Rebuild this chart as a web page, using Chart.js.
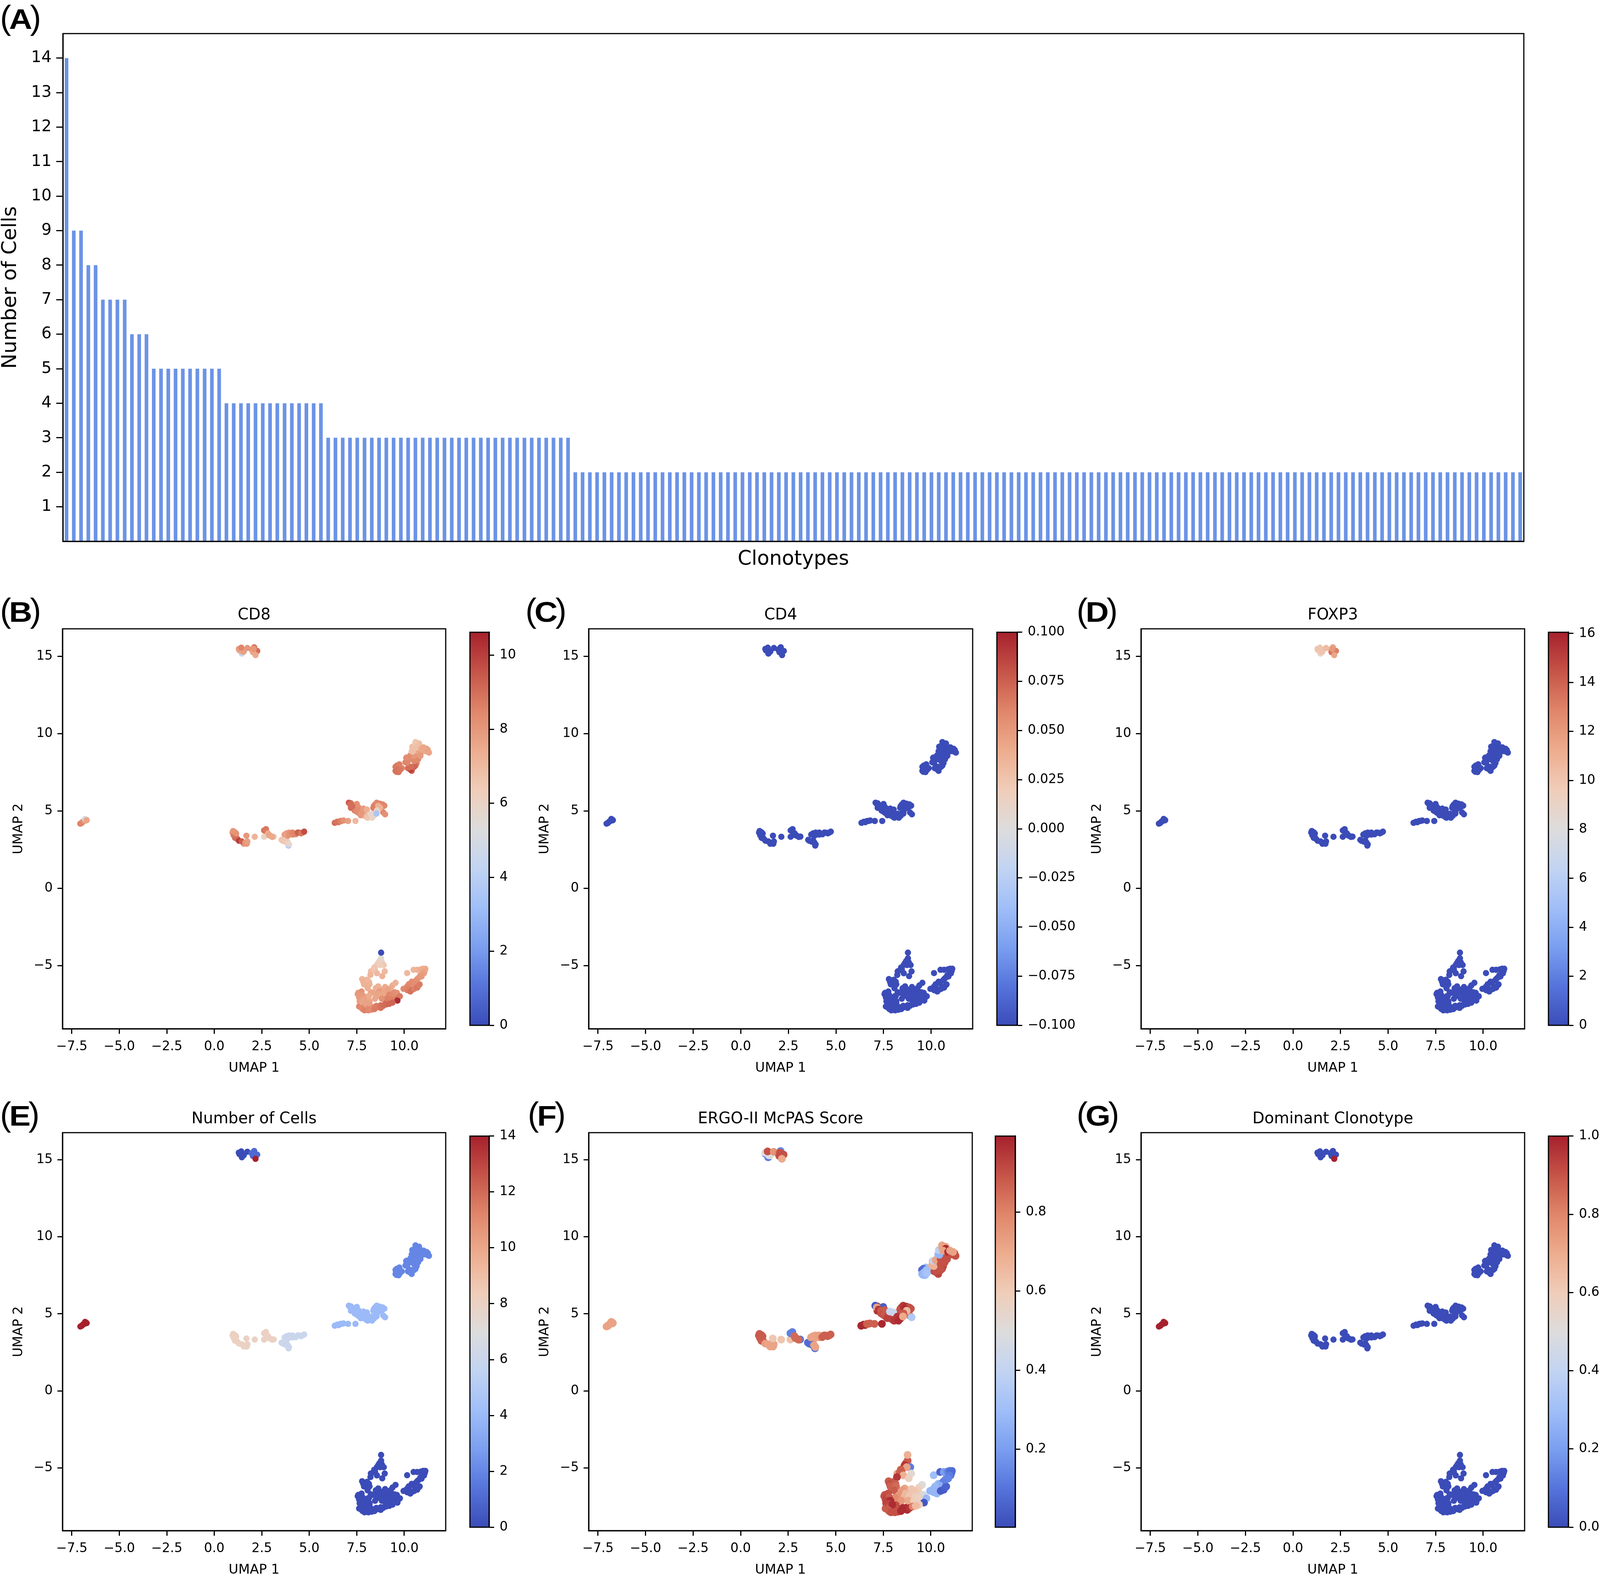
<!DOCTYPE html>
<html>
<head>
<meta charset="utf-8">
<title>Clonotypes</title>
<script src="https://cdn.jsdelivr.net/npm/chart.js@4"></script>
<style>
    body { margin: 0; background: #fff; }
    #page { position: relative; width: 4096px; height: 4030px; overflow: hidden; }
    canvas { position: absolute; }
    .letter { position: absolute; font-family: "Liberation Sans"; color: #000; line-height: 83px; font-size: 86px; white-space: nowrap; }
    .letter b { display: inline-block; font-size: 72px; transform: scaleX(1.14); margin: 0 -2px; }
</style>
</head>
<body>
<div id="page"></div>
<script>
// panel A
const clonotypeSizes = [
    14, 9, 9, 8, 8, 7, 7, 7, 7, 6, 6, 6,
    5, 5, 5, 5, 5, 5, 5, 5, 5, 5,
    4, 4, 4, 4, 4, 4, 4, 4, 4, 4, 4, 4, 4, 4,
    3, 3, 3, 3, 3, 3, 3, 3, 3, 3, 3, 3, 3, 3, 3, 3, 3, 3, 3, 3,
    3, 3, 3, 3, 3, 3, 3, 3, 3, 3, 3, 3, 3, 3,
    2, 2, 2, 2, 2, 2, 2, 2, 2, 2, 2, 2, 2, 2, 2, 2, 2, 2, 2, 2,
    2, 2, 2, 2, 2, 2, 2, 2, 2, 2, 2, 2, 2, 2, 2, 2, 2, 2, 2, 2,
    2, 2, 2, 2, 2, 2, 2, 2, 2, 2, 2, 2, 2, 2, 2, 2, 2, 2, 2, 2,
    2, 2, 2, 2, 2, 2, 2, 2, 2, 2, 2, 2, 2, 2, 2, 2, 2, 2, 2, 2,
    2, 2, 2, 2, 2, 2, 2, 2, 2, 2, 2, 2, 2, 2, 2, 2, 2, 2, 2, 2,
    2, 2, 2, 2, 2, 2, 2, 2, 2, 2, 2, 2, 2, 2, 2, 2, 2, 2, 2, 2,
    2, 2, 2, 2, 2, 2, 2, 2, 2, 2, 2
];
const sizeTicks = [1, 2, 3, 4, 5, 6, 7, 8, 9, 10, 11, 12, 13, 14];

// UMAP coordinates, one row per blob of cells
const umapX = [
    7.55, 7.62, 7.65, 7.71, 7.62, 7.81, 7.97, 7.97, 8.17, 8.30, 8.63, 8.76, 9.02, 9.15, 9.31, 9.54, 9.67,
    8.10, 8.01, 8.17, 8.24, 8.43, 8.56, 8.76, 8.92, 9.08, 9.02, 9.35, 9.48,
    7.78, 8.04, 7.97, 8.24, 8.37, 8.56, 8.82,
    10.39, 10.68, 10.85, 11.04, 11.11, 10.26, 10.59, 10.42, 10.81,
    8.78, 8.69, 8.63, 8.92, 8.73, 8.42, 8.46, 8.97, 8.56, 8.84, 8.22, 7.94, 7.84, 8.14, 7.88, 8.17, 8.07, 8.78,
    8.63, 8.50, 8.99, 9.54, 9.38, 9.28, 9.12, 8.68, 8.33, 8.63, 8.89, 8.14, 8.46, 8.82, 9.61, 9.21, 9.41, 9.77, 9.12, 9.34, 9.64, 9.38,
    7.58, 7.75, 7.65, 7.81, 7.68, 7.88, 7.78, 7.84, 8.17, 7.98,
    7.75, 7.91, 8.11, 8.27, 8.43, 8.53, 8.76, 8.89, 9.05, 9.21,
    10.15, 10.49, 10.68, 10.88, 10.99, 11.08, 10.98, 10.91, 10.75, 10.62, 10.45, 10.23, 10.13, 9.96, 10.16, 10.32, 10.52, 10.68, 10.78,
    0.96, 1.06, 1.09, 1.22, 1.55, 1.71, 2.72, 2.79, 2.95, 3.54, 3.80, 3.80, 3.86, 4.12, 4.45, 4.65,
    7.19, 7.29, 7.19, 7.39, 7.55, 7.65, 7.75, 7.85, 7.91, 7.94, 8.14, 8.46, 8.86, 8.37, 8.89, 8.43, 6.54, 6.70,
    9.54, 9.74, 9.87, 9.54, 9.70, 10.10, 10.06, 10.19, 10.39, 10.59, 10.65, 10.19, 10.39, 10.59, 10.32, 10.78, 10.68, 10.91, 10.52, 10.39, 10.59, 10.78, 11.24, 11.30,
    1.02, 1.15, 0.99, 1.09, 1.15, 1.30, 1.45, 1.63, 1.74, 1.69, 2.13,
    2.62, 3.13, 2.62, 2.72, 2.83, 2.88, 3.05,
    3.60, 3.73, 3.91, 3.86, 3.93,
    3.70, 3.93, 3.96, 4.12, 4.29, 4.39, 4.57, 4.73,
    6.34, 6.47, 6.64, 6.80, 7.04, 7.43,
    7.08, 7.50, 7.16, 7.26, 7.39, 7.58, 7.45, 7.58, 7.75, 7.71, 7.85, 8.03, 8.01, 8.07, 8.24, 8.30, 8.40,
    8.40, 8.55, 8.71, 8.86, 8.95, 8.99, 8.63, 8.73, 8.56, 8.54,
    9.61, 9.77, 9.64, 9.59, 9.77, 10.32, 10.23, 10.52, 10.36, 10.16, 10.13, 10.26, 10.52, 10.73, 10.52, 10.85, 10.45, 10.42, 10.59, 10.78, 10.65, 10.91, 11.11, 11.27, 11.17, 11.01,
    1.45, 1.32, 1.29, 1.48, 1.55, 1.42, 1.74, 2.10, 1.97, 2.26, 2.03, 2.07, 2.17,
    -7.05, -6.98, -6.92, -6.85, -6.78, -6.74, -6.80, -6.72
];
const umapY = [
    -6.84, -7.05, -7.30, -7.47, -7.64, -7.81, -7.81, -7.64, -7.64, -7.68, -7.68, -7.56, -7.39, -7.30, -7.30, -7.14, -7.09,
    -6.97, -7.22, -7.30, -6.72, -6.72, -6.97, -6.55, -6.55, -6.72, -6.97, -6.72, -6.72,
    -5.87, -5.91, -6.21, -5.37, -5.28, -4.95, -4.78,
    -6.04, -5.87, -5.62, -5.49, -5.20, -6.46, -6.38, -6.55, -6.21,
    -4.53, -4.70, -4.82, -4.96, -4.96, -5.12, -5.24, -5.37, -5.49, -5.68, -5.60, -5.96, -6.04, -6.04, -6.21, -6.21, -6.46, -4.16,
    -6.34, -6.46, -6.38, -6.11, -6.28, -6.46, -6.55, -6.67, -6.76, -6.84, -6.80, -6.97, -7.14, -7.14, -6.76, -6.88, -6.92, -6.98, -7.14, -7.18, -7.26, -7.39,
    -6.76, -6.67, -6.92, -6.92, -7.14, -7.14, -7.35, -7.56, -7.43, -7.39,
    -7.73, -7.89, -7.89, -7.85, -7.81, -7.60, -7.73, -7.60, -7.51, -7.47,
    -5.48, -5.27, -5.27, -5.24, -5.20, -5.33, -5.49, -5.70, -5.79, -5.96, -6.13, -6.21, -6.38, -6.50, -6.59, -6.67, -6.50, -6.42, -6.25,
    3.60, 3.39, 3.26, 3.18, 2.88, 2.88, 3.68, 3.47, 3.39, 3.13, 3.09, 3.55, 3.39, 3.47, 3.60, 3.60,
    5.49, 5.36, 5.20, 5.03, 4.90, 4.82, 5.11, 4.90, 4.69, 5.03, 4.77, 5.41, 5.28, 5.20, 4.90, 4.82, 4.27, 4.35,
    7.85, 8.01, 7.76, 7.59, 7.51, 8.43, 8.14, 8.27, 8.35, 8.43, 8.10, 7.76, 7.59, 7.93, 8.60, 8.73, 8.86, 8.81, 9.02, 8.86, 9.45, 9.36, 8.94, 8.77,
    3.43, 3.30, 3.70, 3.62, 3.54, 3.07, 3.03, 2.95, 3.03, 3.40, 3.33,
    3.33, 3.34, 3.74, 3.82, 3.55, 3.43, 3.32,
    3.07, 3.01, 2.76, 2.97, 2.84,
    3.47, 3.60, 3.47, 3.60, 3.49, 3.60, 3.55, 3.66,
    4.23, 4.30, 4.35, 4.38, 4.35, 4.35,
    5.53, 5.45, 5.42, 5.28, 5.20, 5.24, 4.99, 5.03, 4.90, 4.72, 5.15, 5.09, 4.61, 4.56, 4.82, 4.56, 4.69,
    5.32, 5.53, 5.47, 5.42, 5.34, 4.78, 5.32, 5.20, 5.03, 4.83,
    7.93, 7.85, 7.68, 7.53, 7.64, 7.68, 7.80, 7.85, 7.85, 8.11, 8.45, 8.48, 8.22, 8.35, 8.56, 8.56, 8.84, 9.15, 9.32, 9.23, 9.11, 9.02, 8.86, 8.79, 9.02, 9.11,
    15.17, 15.38, 15.47, 15.30, 15.30, 15.55, 15.53, 15.58, 15.43, 15.34, 15.26, 15.47, 15.07,
    4.18, 4.22, 4.30, 4.36, 4.38, 4.42, 4.48, 4.40
];

const cd8Values = [
    8, 7.9, 7.8, 7.8, 8.4, 8.6, 8.5, 8.2, 8.3, 8.4, 8.8, 8.9, 9.1, 9.2, 9.3, 9.1, 9.2,
    7.4, 7.5, 7.6, 7.6, 7.6, 7.7, 7.6, 7.7, 8, 8.2, 8.3, 8.3,
    7.1, 7.1, 7.2, 6.9, 6.8, 6.3, 6,
    8.3, 8.1, 7.9, 7.6, 7.4, 8.6, 8.7, 8.9, 8.6,
    5.6, 5.8, 6.2, 6.5, 6.3, 6.6, 6.6, 7, 7, 7.2, 7.1, 7.1, 7.2, 7, 7.2, 7.2, 7.3, 0,
    7.3, 7.3, 7.5, 7.2, 7.3, 7.5, 7.7, 7.9, 7.6, 7.6, 7.6, 7.4, 7.6, 8.2, 8.2, 8.4, 8.3, 8.7, 8.6, 8.6, 10.4, 9.2,
    8, 8.1, 7.9, 7.9, 7.9, 7.7, 7.6, 7.6, 7.7, 7.7,
    8.4, 8.6, 8.4, 8.3, 8.7, 8.7, 8.9, 9, 9.1, 9.2,
    7, 7.1, 7.2, 7.4, 7.4, 7.6, 7.8, 7.9, 8, 8.2, 8.3, 8.4, 8.5, 8.4, 8.6, 8.9, 8.6, 8.8, 8.7,
    8, 8.8, 9, 9.3, 8, 7.9, 8.6, 7.6, 7.5, 6.6, 6.5, 7.9, 8, 8.4, 9, 9.4,
    9, 9, 9.1, 8.8, 8.2, 8.1, 8.1, 7.7, 7.2, 7.5, 6.4, 8.4, 8.4, 8.7, 8.4, 6, 8.7, 8.5,
    8.8, 8.6, 8.6, 8.9, 8.9, 8.4, 8.5, 8.5, 8.3, 8.1, 8.4, 9, 9.4, 9, 8.2, 7.8, 7.6, 7.7, 6.8, 6.9, 6.6, 6.8, 7.6, 7.6,
    8.8, 9, 8, 8, 8.1, 10, 9.3, 8, 7.8, 8, 7.2,
    6, 6.2, 8.9, 8.8, 7.5, 7.6, 7.5,
    6.6, 6.5, 3.6, 6.4, 5.7,
    7.8, 8, 8.2, 8.5, 8.5, 9.3, 8.8, 9.7,
    9, 8.9, 8.6, 8.2, 7.8, 7,
    9.4, 8.2, 9, 9, 9, 8.2, 8.4, 8.3, 8, 8, 7.9, 7.3, 7, 6.6, 5.9, 6, 5.9,
    8.6, 8.4, 8.4, 8.5, 8.4, 8.2, 7.2, 7.2, 6, 3.5,
    8.7, 8.6, 8.9, 8.9, 8.8, 10, 9, 9.2, 9, 8.5, 8.3, 8.3, 8.4, 8.4, 8, 7.9, 6.8, 6.8, 6.6, 6.9, 6.8, 7.5, 7.5, 7.6, 7.7, 7.6,
    4.5, 7.5, 7.8, 7.6, 7.8, 8.5, 8, 8.8, 8, 9, 7.6, 8, 7.5,
    8.6, 8.5, 8.4, 8, 7.8, 7.5, 5, 7.6
];
const cd4Values = [
    -0.1, -0.1, -0.1, -0.1, -0.1, -0.1, -0.1, -0.1, -0.1, -0.1,
    -0.1, -0.1, -0.1, -0.1, -0.1, -0.1, -0.1, -0.1, -0.1, -0.1,
    -0.1, -0.1, -0.1, -0.1, -0.1, -0.1, -0.1, -0.1, -0.1, -0.1,
    -0.1, -0.1, -0.1, -0.1, -0.1, -0.1, -0.1, -0.1, -0.1, -0.1,
    -0.1, -0.1, -0.1, -0.1, -0.1, -0.1, -0.1, -0.1, -0.1, -0.1,
    -0.1, -0.1, -0.1, -0.1, -0.1, -0.1, -0.1, -0.1, -0.1, -0.1,
    -0.1, -0.1, -0.1, -0.1, -0.1, -0.1, -0.1, -0.1, -0.1, -0.1,
    -0.1, -0.1, -0.1, -0.1, -0.1, -0.1, -0.1, -0.1, -0.1, -0.1,
    -0.1, -0.1, -0.1, -0.1, -0.1, -0.1, -0.1, -0.1, -0.1, -0.1,
    -0.1, -0.1, -0.1, -0.1, -0.1, -0.1, -0.1, -0.1, -0.1, -0.1,
    -0.1, -0.1, -0.1, -0.1, -0.1, -0.1, -0.1, -0.1, -0.1, -0.1,
    -0.1, -0.1, -0.1, -0.1, -0.1, -0.1, -0.1, -0.1, -0.1, -0.1,
    -0.1, -0.1, -0.1, -0.1, -0.1, -0.1, -0.1, -0.1, -0.1, -0.1,
    -0.1, -0.1, -0.1, -0.1, -0.1, -0.1, -0.1, -0.1, -0.1, -0.1,
    -0.1, -0.1, -0.1, -0.1, -0.1, -0.1, -0.1, -0.1, -0.1, -0.1,
    -0.1, -0.1, -0.1, -0.1, -0.1, -0.1, -0.1, -0.1, -0.1, -0.1,
    -0.1, -0.1, -0.1, -0.1, -0.1, -0.1, -0.1, -0.1, -0.1, -0.1,
    -0.1, -0.1, -0.1, -0.1, -0.1, -0.1, -0.1, -0.1, -0.1, -0.1,
    -0.1, -0.1, -0.1, -0.1, -0.1, -0.1, -0.1, -0.1, -0.1, -0.1,
    -0.1, -0.1, -0.1, -0.1, -0.1, -0.1, -0.1, -0.1, -0.1, -0.1,
    -0.1, -0.1, -0.1, -0.1, -0.1, -0.1, -0.1, -0.1, -0.1, -0.1,
    -0.1, -0.1, -0.1, -0.1, -0.1, -0.1, -0.1, -0.1, -0.1, -0.1,
    -0.1, -0.1, -0.1, -0.1, -0.1, -0.1, -0.1, -0.1, -0.1, -0.1,
    -0.1, -0.1, -0.1, -0.1, -0.1, -0.1, -0.1, -0.1, -0.1, -0.1,
    -0.1, -0.1, -0.1, -0.1, -0.1, -0.1, -0.1, -0.1, -0.1, -0.1,
    -0.1, -0.1, -0.1, -0.1, -0.1, -0.1, -0.1, -0.1, -0.1, -0.1,
    -0.1, -0.1, -0.1, -0.1, -0.1, -0.1, -0.1, -0.1, -0.1, -0.1,
    -0.1, -0.1, -0.1, -0.1, -0.1, -0.1, -0.1, -0.1, -0.1, -0.1,
    -0.1, -0.1, -0.1, -0.1, -0.1, -0.1, -0.1, -0.1, -0.1, -0.1,
    -0.1, -0.1, -0.1
];
const foxp3Values = [
    0, 0, 0, 0, 0, 0, 0, 0, 0, 0, 0, 0, 0, 0, 0, 0, 0, 0, 0, 0,
    0, 0, 0, 0, 0, 0, 0, 0, 0, 0, 0, 0, 0, 0, 0, 0, 0, 0, 0, 0,
    0, 0, 0, 0, 0, 0, 0, 0, 0, 0, 0, 0, 0, 0, 0, 0, 0, 0, 0, 0,
    0, 0, 0, 0, 0, 0, 0, 0, 0, 0, 0, 0, 0, 0, 0, 0, 0, 0, 0, 0,
    0, 0, 0, 0, 0, 0, 0, 0, 0, 0, 0, 0, 0, 0, 0, 0, 0, 0, 0, 0,
    0, 0, 0, 0, 0, 0, 0, 0, 0, 0, 0, 0, 0, 0, 0, 0, 0, 0, 0, 0,
    0, 0, 0, 0, 0, 0, 0, 0, 0, 0, 0, 0, 0, 0, 0, 0, 0, 0, 0, 0,
    0, 0, 0, 0, 0, 0, 0, 0, 0, 0, 0, 0, 0, 0, 0, 0, 0, 0, 0, 0,
    0, 0, 0, 0, 0, 0, 0, 0, 0, 0, 0, 0, 0, 0, 0, 0, 0, 0, 0, 0,
    0, 0, 0, 0, 0, 0, 0, 0, 0, 0, 0, 0, 0, 0, 0, 0, 0, 0, 0, 0,
    0, 0, 0, 0, 0, 0, 0, 0, 0, 0, 0, 0, 0, 0, 0, 0, 0, 0, 0, 0,
    0, 0, 0, 0, 0, 0, 0, 0, 0, 0, 0, 0, 0, 0, 0, 0, 0, 0, 0, 0,
    0, 0, 0, 0, 0, 0, 0, 0, 0, 0, 0, 0, 0, 0, 0, 0, 0, 0, 0, 0,
    0, 0, 0, 0, 0, 0, 0, 0, 0, 0, 0, 0,
    9, 9.5, 10, 10, 10, 10, 10.5, 11.5, 10.5, 13, 13.5, 12, 11.5,
    0, 0, 0, 0, 0, 0, 0, 0
];
const cellCounts = [
    0, 0, 0, 0, 0, 0, 0, 0, 0, 0, 0, 0, 0, 0, 0, 0, 0, 0, 0, 0,
    0, 0, 0, 0, 0, 0, 0, 0, 0, 0, 0, 0, 0, 0, 0, 0, 0, 0, 0, 0,
    0, 0, 0, 0, 0,
    0, 0, 0, 0, 0, 0, 0, 0, 0, 0, 0, 0, 0, 0, 0, 0, 0, 0,
    0, 0, 0, 0, 0, 0, 0, 0, 0, 0, 0, 0, 0, 0, 0, 0, 0, 0, 0, 0, 0, 0,
    0, 0, 0, 0, 0, 0, 0, 0, 0, 0,
    0, 0, 0, 0, 0, 0, 0, 0, 0, 0,
    0, 0, 0, 0, 0, 0, 0, 0, 0, 0, 0, 0, 0, 0, 0, 0, 0, 0, 0,
    8, 8, 8, 8, 8, 8, 8, 8, 8, 6, 6, 6, 6, 6, 6, 6,
    4, 4, 4, 4, 4, 4, 4, 4, 4, 4, 4, 4, 4, 4, 4, 4, 4, 4,
    2, 2, 2, 2, 2, 2, 2, 2, 2, 2, 2, 2, 2, 2, 2, 2, 2, 2, 2, 2, 2, 2, 2, 2,
    8, 8, 8, 8, 8, 8, 8, 8, 8, 8, 8,
    8, 8, 8, 8, 8, 8, 8,
    6, 6, 6, 6, 6,
    6, 6, 6, 6, 6, 6, 6, 6,
    4, 4, 4, 4, 4, 4,
    4, 4, 4, 4, 4, 4, 4, 4, 4, 4, 4, 4, 4, 4, 4, 4, 4,
    4, 4, 4, 4, 4, 4, 4, 4, 4, 4,
    2, 2, 2, 2, 2, 2, 2, 2, 2, 2, 2, 2, 2, 2, 2, 2, 2, 2, 2, 2, 2, 2, 2, 2, 2, 2,
    0, 0, 0, 0, 0, 0, 0, 1, 1, 1, 1, 1, 14,
    14, 14, 14, 14, 14, 14, 14, 14
];
const ergoScores = [
    .9, .9, .92, .9, .88, .9, .9, .9, .88, .95, .97, .97, .78, .65, .58, .5, .45,
    .8, .9, .78, .74, .72, .72, .68, .62, .6, .6, .55, .5,
    .88, .86, .86, .72, .87, .7, .52,
    .27, .12, .14, .1, .08, .27, .04, .04, .05,
    .88, .88, .95, .12, .72, .87, .87, .53, .68, .57, .95, .88, .9, .87, .87, .85, .88, .68,
    .72, .74, .62, .5, .55, .6, .62, .66, .75, .66, .62, .78, .75, .7, .46, .58, .57, .28, .6, .57, .03, .6,
    .9, .9, .92, .88, .93, .97, .92, .88, .9, .97,
    .88, .9, .9, .9, .97, .97, .97, .95, .8, .65,
    .3, .06, .2, .15, .1, .08, .12, .14, .14, .13, .25, .28, .27, .27, .27, .27, .04, .04, .06,
    .88, .88, .88, .88, .72, .72, .13, .13, .85, .08, .08, .72, .72, .72, .87, .87,
    .9, .88, .95, .9, .88, .9, .88, .5, .93, .42, .9, .95, .9, .9, .85, .65, .98, .87,
    .08, .3, .3, .28, .3, .68, .68, .7, .9, .9, .9, .92, .92, .92, .5, .9, .9, .9, .25, .3, .72, .72, .9, .9,
    .88, .87, .88, .88, .88, .73, .72, .72, .72, .62, .62,
    .63, .1, .13, .13, .85, .85, .85,
    .08, .08, .1, .72, .72,
    .72, .72, .72, .73, .87, .87, .87, .87,
    .98, .98, .87, .87, .87, .98,
    .03, .05, .72, .95, .88, .88, .9, .88, .9, .93, .42, .42, .93, .95, .95, .97, .97,
    .9, .95, .97, .9, .9, .35, .97, .65, .88, .7,
    .08, .3, .3, .28, .32, .92, .9, .9, .9, .68, .4, .72, .9, .9, .9, .9, .27, .38, .72, .98, .72, .97, .9, .9, .72, .72,
    .12, .15, .5, .45, .5, .9, .75, .15, .78, .9, .9, .9, .7,
    .72, .72, .72, .72, .72, .72, .72, .72
];
const dominantFlags = [
    0, 0, 0, 0, 0, 0, 0, 0, 0, 0, 0, 0, 0, 0, 0, 0, 0, 0, 0, 0,
    0, 0, 0, 0, 0, 0, 0, 0, 0, 0, 0, 0, 0, 0, 0, 0, 0, 0, 0, 0,
    0, 0, 0, 0, 0, 0, 0, 0, 0, 0, 0, 0, 0, 0, 0, 0, 0, 0, 0, 0,
    0, 0, 0, 0, 0, 0, 0, 0, 0, 0, 0, 0, 0, 0, 0, 0, 0, 0, 0, 0,
    0, 0, 0, 0, 0, 0, 0, 0, 0, 0, 0, 0, 0, 0, 0, 0, 0, 0, 0, 0,
    0, 0, 0, 0, 0, 0, 0, 0, 0, 0, 0, 0, 0, 0, 0, 0, 0, 0, 0, 0,
    0, 0, 0, 0, 0, 0, 0, 0, 0, 0, 0, 0, 0, 0, 0, 0, 0, 0, 0, 0,
    0, 0, 0, 0, 0, 0, 0, 0, 0, 0, 0, 0, 0, 0, 0, 0, 0, 0, 0, 0,
    0, 0, 0, 0, 0, 0, 0, 0, 0, 0, 0, 0, 0, 0, 0, 0, 0, 0, 0, 0,
    0, 0, 0, 0, 0, 0, 0, 0, 0, 0, 0, 0, 0, 0, 0, 0, 0, 0, 0, 0,
    0, 0, 0, 0, 0, 0, 0, 0, 0, 0, 0, 0, 0, 0, 0, 0, 0, 0, 0, 0,
    0, 0, 0, 0, 0, 0, 0, 0, 0, 0, 0, 0, 0, 0, 0, 0, 0, 0, 0, 0,
    0, 0, 0, 0, 0, 0, 0, 0, 0, 0, 0, 0, 0, 0, 0, 0, 0, 0, 0, 0,
    0, 0, 0, 0, 0, 0, 0, 0, 0, 0, 0, 0, 0, 0, 0, 0, 0, 0, 0, 0,
    0, 0, 0, 0,
    1, 1, 1, 1, 1, 1, 1, 1, 1
];

const umapXTicks = [-7.5, -5, -2.5, 0, 2.5, 5, 7.5, 10];
const umapYTicks = [-5, 0, 5, 10, 15];
const cd8Ticks = [0, 2, 4, 6, 8, 10];
const cd4Ticks = [-0.1, -0.075, -0.05, -0.025, 0, 0.025, 0.05, 0.075, 0.1];
const foxp3Ticks = [0, 2, 4, 6, 8, 10, 12, 14, 16];
const cellTicks = [0, 2, 4, 6, 8, 10, 12, 14];
const ergoTicks = [0.2, 0.4, 0.6, 0.8];
const dominantTicks = [0, 0.2, 0.4, 0.6, 0.8, 1];

// coolwarm, a bit duller than the stock map like the picture
const coolwarm = ['#3b4cb8', '#5674dc', '#7b9ff0', '#a0bef8', '#c2d4f2', '#dddcdc', '#f0cdb9', '#edac8e', '#e0866a', '#c65448', '#a6212d'];

// the browser window stops at 4096 wide, so the 4299 wide layout is fitted into it
const fx = x => Math.round(x * 4096 / 4299);

function hexToRgb(hex) {
    return [1, 3, 5].map(i => parseInt(hex.slice(i, i + 2), 16));
}

function colorAt(t) {
    const p = Math.min(Math.max(t, 0), 1) * (coolwarm.length - 1);
    const i = Math.min(Math.floor(p), coolwarm.length - 2);
    const a = hexToRgb(coolwarm[i]);
    const b = hexToRgb(coolwarm[i + 1]);
    const c = a.map((v, k) => Math.round(v + (b[k] - v) * (p - i)));
    return 'rgb(' + c.join(',') + ')';
}

Chart.defaults.font.family = '"DejaVu Sans"';
Chart.defaults.color = '#000';
Chart.defaults.devicePixelRatio = 1;

const spine = {
    id: 'spine',
    afterDraw(chart) {
        const a = chart.chartArea;
        const c = chart.ctx;
        c.save();
        c.strokeStyle = '#000';
        c.lineWidth = 3;
        c.strokeRect(a.left, a.top, a.right - a.left, a.bottom - a.top);
        c.restore();
    }
};

const page = document.getElementById('page');

function addCanvas(left, top, width, height) {
    const canvas = document.createElement('canvas');
    canvas.width = width;
    canvas.height = height;
    canvas.style.left = left + 'px';
    canvas.style.top = top + 'px';
    canvas.style.width = width + 'px';
    canvas.style.height = height + 'px';
    page.appendChild(canvas);
    return canvas.getContext('2d');
}

function addLetter(text, left, top) {
    const div = document.createElement('div');
    div.className = 'letter';
    div.style.left = left + 'px';
    div.style.top = top + 'px';
    div.innerHTML = '(<b>' + text + '</b>)';
    page.appendChild(div);
}

const minus = s => s.replace('-', '\u2212');

function tickAxis(values, size, length) {
    return {
        afterBuildTicks: scale => { scale.ticks = values.map(v => ({ value: v })); },
        border: { color: '#000', width: 3 },
        grid: { drawOnChartArea: false, tickColor: '#000', tickWidth: 3, tickLength: length },
        ticks: { autoSkip: false, maxRotation: 0, padding: 12, font: { size: size } }
    };
}

// bar chart, panel A
function drawBars() {
    const yAxis = tickAxis(sizeTicks, 41, 17);
    const left = fx(169);
    const right = fx(4094);
    new Chart(addCanvas(0, 0, right + 20, 1470), {
        type: 'bar',
        data: {
            labels: clonotypeSizes.map((_, i) => i + 1),
            datasets: [{ data: clonotypeSizes, backgroundColor: '#6c93e6', barPercentage: 0.5, categoryPercentage: 1 }]
        },
        options: {
            responsive: false,
            animation: false,
            layout: { padding: { top: 86, right: 20 } },
            plugins: { legend: { display: false }, tooltip: { enabled: false } },
            scales: {
                x: {
                    afterFit: s => { s.height = 84; },
                    grid: { display: false },
                    border: { color: '#000', width: 3 },
                    ticks: { display: false },
                    title: { display: true, text: 'Clonotypes', font: { size: 51 }, padding: { bottom: 7 } }
                },
                y: Object.assign(yAxis, {
                    min: 0,
                    max: 14.71,
                    afterFit: s => { s.width = left; },
                    title: { display: true, text: 'Number of Cells', font: { size: 52, lineHeight: 1 }, padding: { top: 1 } }
                })
            }
        },
        plugins: [spine]
    });
}

// UMAP scatter, panels B to G
function drawScatter(p) {
    const xAxis = tickAxis(umapXTicks, 33, 13);
    const yAxis = tickAxis(umapYTicks, 33, 13);
    xAxis.ticks.padding = 14;
    xAxis.ticks.callback = v => minus(v.toFixed(1));
    yAxis.ticks.callback = v => minus(String(v));
    const gutter = fx(168);
    const left = fx(p.left);
    const w = fx(p.right) - left;
    const h = p.bottom - p.top;
    new Chart(addCanvas(left - gutter, p.top - 62, w + gutter + 20, h + 62 + 130), {
        type: 'scatter',
        data: {
            datasets: [{
                data: umapX.map((x, i) => ({ x: x, y: umapY[i] })),
                backgroundColor: p.values.map(v => colorAt((v - p.min) / (p.max - p.min))),
                borderWidth: 0,
                pointRadius: p.radius
            }]
        },
        options: {
            responsive: false,
            animation: false,
            layout: { padding: { right: 20 } },
            plugins: {
                legend: { display: false },
                tooltip: { enabled: false },
                title: {
                    display: true,
                    text: p.title,
                    fullSize: false,
                    color: '#000',
                    font: { size: 40, weight: 'normal', lineHeight: '50px' },
                    padding: { top: 3, bottom: 9 }
                }
            },
            scales: {
                x: Object.assign(xAxis, {
                    min: -7.99,
                    max: 12.18,
                    afterFit: s => { s.height = 130; },
                    title: { display: true, text: 'UMAP 1', font: { size: 34 }, padding: { bottom: 8 } }
                }),
                y: Object.assign(yAxis, {
                    min: -9.08,
                    max: 16.77,
                    afterFit: s => { s.width = gutter; },
                    title: { display: true, text: 'UMAP 2', font: { size: 34 }, padding: { top: 28 } }
                })
            }
        },
        plugins: [spine]
    });
}

// colour bar next to a scatter
function drawColorBar(p) {
    const yAxis = tickAxis(p.ticks, 33, 13);
    yAxis.ticks.padding = 14;
    yAxis.ticks.callback = v => minus(v.toFixed(p.digits));
    const barLeft = fx(p.barLeft);
    const w = fx(p.barRight) - barLeft;
    const h = p.bottom - p.top;
    new Chart(addCanvas(barLeft - 10, p.top - 25, w + 10 + 155, h + 50), {
        type: 'bar',
        data: {
            labels: [p.title],
            datasets: [{
                data: [[p.min, p.max]],
                barPercentage: 1,
                categoryPercentage: 1,
                backgroundColor: ctx => {
                    const a = ctx.chart.chartArea;
                    if (!a) return '#ddd';
                    const g = ctx.chart.ctx.createLinearGradient(0, a.bottom, 0, a.top);
                    coolwarm.forEach((c, i) => g.addColorStop(i / (coolwarm.length - 1), c));
                    return g;
                }
            }]
        },
        options: {
            responsive: false,
            animation: false,
            layout: { padding: { left: 10, top: 25, bottom: 25 } },
            plugins: { legend: { display: false }, tooltip: { enabled: false } },
            scales: {
                x: { display: false },
                y: Object.assign(yAxis, {
                    position: 'right',
                    min: p.min,
                    max: p.max,
                    afterFit: s => { s.width = 155; }
                })
            }
        },
        plugins: [spine]
    });
}

const rowOne = { top: 1610, bottom: 2634 };
const rowTwo = { top: 2900, bottom: 3919 };

const panels = [
    { letter: 'B', letterX: 0, letterY: 1521, title: 'CD8', values: cd8Values, min: 0, max: 10.62, ticks: cd8Ticks, digits: 0, radius: 8, left: 168, right: 1198, barLeft: 1263, barRight: 1314, row: rowOne },
    { letter: 'C', letterX: 1412, letterY: 1521, title: 'CD4', values: cd4Values, min: -0.1, max: 0.1, ticks: cd4Ticks, digits: 3, radius: 8, left: 1582, right: 2613, barLeft: 2679, barRight: 2733, row: rowOne },
    { letter: 'D', letterX: 2893, letterY: 1521, title: 'FOXP3', values: foxp3Values, min: 0, max: 16.05, ticks: foxp3Ticks, digits: 0, radius: 8, left: 3066, right: 4096, barLeft: 4160, barRight: 4214, row: rowOne },
    { letter: 'E', letterX: 0, letterY: 2811, title: 'Number of Cells', values: cellCounts, min: 0, max: 14, ticks: cellTicks, digits: 0, radius: 8, left: 168, right: 1198, barLeft: 1263, barRight: 1314, row: rowTwo },
    { letter: 'F', letterX: 1418, letterY: 2811, title: 'ERGO-II McPAS Score', values: ergoScores, min: 0.003, max: 0.992, ticks: ergoTicks, digits: 1, radius: 10, left: 1582, right: 2612, barLeft: 2674, barRight: 2728, row: rowTwo },
    { letter: 'G', letterX: 2893, letterY: 2811, title: 'Dominant Clonotype', values: dominantFlags, min: 0, max: 1, ticks: dominantTicks, digits: 1, radius: 8, left: 3066, right: 4096, barLeft: 4160, barRight: 4214, row: rowTwo }
];

drawBars();
addLetter('A', 0, 3);
panels.forEach(panel => {
    const p = Object.assign({}, panel, panel.row);
    drawScatter(p);
    drawColorBar(p);
    addLetter(p.letter, fx(p.letterX), p.letterY);
});
</script>
</body>
</html>
